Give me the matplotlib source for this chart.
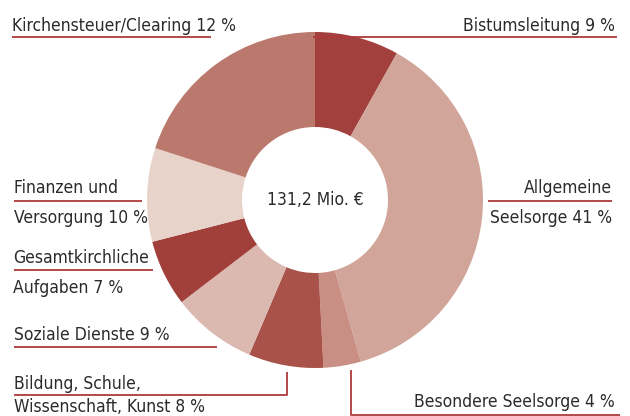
import matplotlib
matplotlib.use('Agg')
import matplotlib.pyplot as plt
from matplotlib import font_manager

# slice shares as drawn (clockwise from 12 o'clock) and the printed labels
categories = ['Bistumsleitung', 'Allgemeine Seelsorge', 'Besondere Seelsorge',
              'Bildung, Schule, Wissenschaft, Kunst', 'Soziale Dienste',
              'Gesamtkirchliche Aufgaben', 'Finanzen und Versorgung',
              'Kirchensteuer/Clearing']
shares = [8.1, 37.5, 3.6, 7.2, 8.2, 6.4, 9.0, 20.0]
label_pct = [9, 41, 4, 8, 9, 7, 10, 12]
colors = ['#a1403c', '#d1a59a', '#c98e84', '#a8524a', '#dcb9b0',
          '#a13f3b', '#e8d3cb', '#bb796d']
total = '131,2 Mio. €'

names = sorted({f.name + '|' + str(f.stretch) for f in font_manager.fontManager.ttflist})
print(names)

W, H = 630, 416
plt.rcParams['font.family'] = ['DejaVu Sans']
plt.rcParams['font.stretch'] = 'condensed'
fig = plt.figure(figsize=(W / 100, H / 100), dpi=100)
ax = fig.add_axes([0, 0, 1, 1])
ax.set_xlim(0, W)
ax.set_ylim(0, H)
ax.set_aspect('equal')
ax.axis('off')

def Y(y):  # pixel row -> data y
    return H - y

cx, cy, r_out, r_in = 315, 200, 168, 73
ax.pie(shares, colors=colors, startangle=90, counterclock=False,
       center=(cx, Y(cy)), radius=r_out,
       wedgeprops=dict(width=r_out - r_in, linewidth=0))
ax.set_xlim(0, W)
ax.set_ylim(0, H)

txt = '#2b2b2b'
red = '#b0393c'
fs = 12.5

def t(x, y, s, ha='left'):
    ax.text(x, Y(y), s, ha=ha, va='baseline', fontsize=fs, color=txt)

def line(xs, ys):
    ax.plot(xs, [Y(v) for v in ys], color=red, lw=1.3, solid_capstyle='butt')

p = dict(zip(categories, label_pct))
t(12, 31, 'Kirchensteuer/Clearing %d %%' % p['Kirchensteuer/Clearing'])
line([12, 211], [37, 37])
t(615, 31, 'Bistumsleitung %d %%' % p['Bistumsleitung'], ha='right')
line([313, 617], [37, 37])
t(612, 193, 'Allgemeine', ha='right')
t(612, 223, 'Seelsorge %d %%' % p['Allgemeine Seelsorge'], ha='right')
line([488, 612], [200.5, 200.5])
t(14, 193, 'Finanzen und')
t(14, 223, 'Versorgung %d %%' % p['Finanzen und Versorgung'])
line([14, 142], [200.5, 200.5])
t(13, 263, 'Gesamtkirchliche')
t(13, 293, 'Aufgaben %d %%' % p['Gesamtkirchliche Aufgaben'])
line([14, 153], [270, 270])
t(14, 340, 'Soziale Dienste %d %%' % p['Soziale Dienste'])
line([14, 217], [346.5, 346.5])
t(14, 389, 'Bildung, Schule,')
t(14, 412, 'Wissenschaft, Kunst %d %%' % p['Bildung, Schule, Wissenschaft, Kunst'])
line([14, 287, 287], [394.5, 394.5, 372])
t(615, 407, 'Besondere Seelsorge %d %%' % p['Besondere Seelsorge'], ha='right')
line([351, 351, 620], [370, 414.5, 414.5])

ax.text(cx, Y(cy), total, ha='center', va='center', fontsize=fs, color=txt)

fig.savefig('out.png', dpi=100)
